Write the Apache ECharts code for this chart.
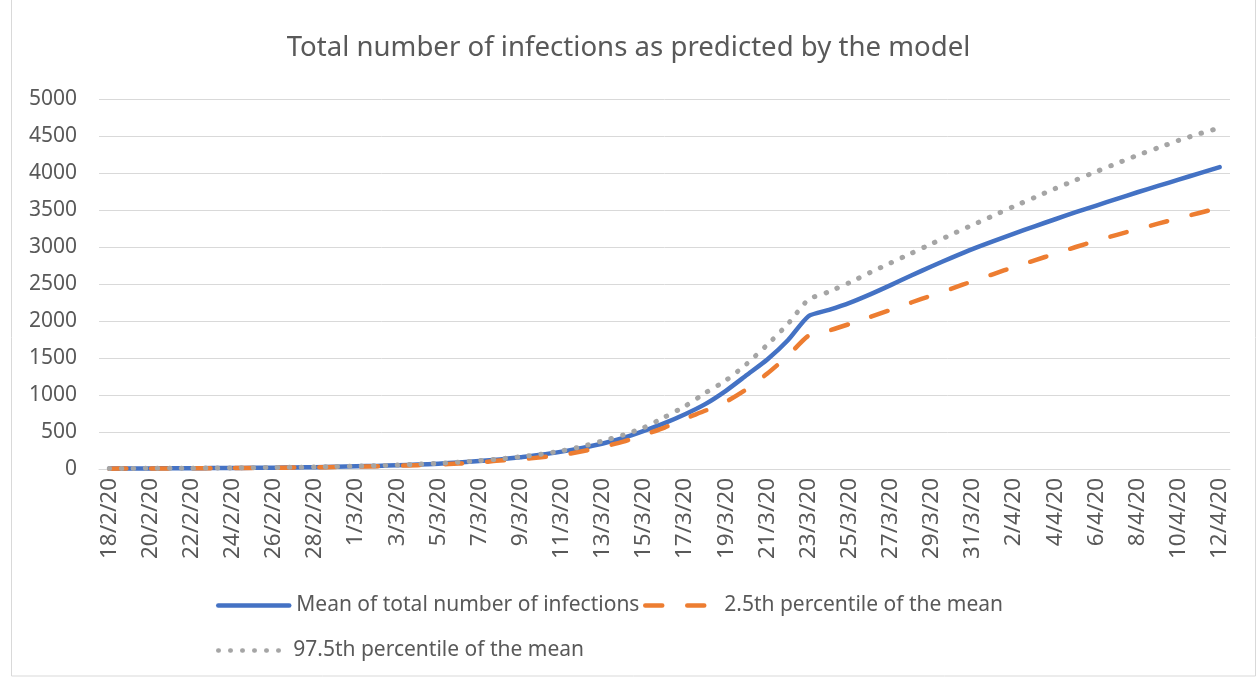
<!DOCTYPE html>
<html>
<head>
<meta charset="utf-8">
<script src="https://cdn.jsdelivr.net/npm/echarts@6/dist/echarts.min.js"></script>
<style>
  html, body { margin: 0; padding: 0; background: #fff; }
  #chart { width: 1257px; height: 678px; }
</style>
</head>
<body>
<div id="chart"></div>
<script>
var dates = [
  "18/2/20", "19/2/20", "20/2/20", "21/2/20", "22/2/20", "23/2/20", "24/2/20", "25/2/20",
  "26/2/20", "27/2/20", "28/2/20", "29/2/20", "1/3/20", "2/3/20", "3/3/20", "4/3/20",
  "5/3/20", "6/3/20", "7/3/20", "8/3/20", "9/3/20", "10/3/20", "11/3/20", "12/3/20",
  "13/3/20", "14/3/20", "15/3/20", "16/3/20", "17/3/20", "18/3/20", "19/3/20", "20/3/20",
  "21/3/20", "22/3/20", "23/3/20", "24/3/20", "25/3/20", "26/3/20", "27/3/20", "28/3/20",
  "29/3/20", "30/3/20", "31/3/20", "1/4/20", "2/4/20", "3/4/20", "4/4/20", "5/4/20",
  "6/4/20", "7/4/20", "8/4/20", "9/4/20", "10/4/20", "11/4/20", "12/4/20"
];

var meanInfections = [
  6, 7, 8, 9, 10, 12, 14, 16, 18, 21, 25, 30, 36, 42, 50, 60,
  72, 88, 107, 130, 160, 192, 235, 285, 345, 420, 515, 620, 740, 880,
  1060, 1270, 1480, 1740, 2065, 2150, 2245, 2360, 2485, 2615, 2740, 2860,
  2975, 3080, 3180, 3280, 3375, 3470, 3560, 3650, 3740, 3825, 3910, 3995, 4080
];

var lowerPct = [
  5, 6, 7, 8, 9, 11, 12, 14, 16, 19, 22, 26, 31, 37, 44, 52,
  62, 74, 88, 115, 128, 160, 188, 240, 300, 370, 460, 560, 680, 790,
  910, 1080, 1290, 1530, 1800, 1870, 1960, 2055, 2150, 2250, 2345, 2440,
  2540, 2635, 2730, 2820, 2910, 3000, 3085, 3165, 3240, 3315, 3390, 3460, 3530
];

var upperPct = [
  7, 8, 9, 10, 11, 13, 15, 17, 20, 23, 27, 32, 38, 45, 54, 64,
  77, 93, 112, 137, 165, 200, 245, 305, 380, 460, 560, 700, 850, 1030,
  1200, 1420, 1680, 1960, 2290, 2395, 2520, 2655, 2785, 2915, 3045, 3175,
  3300, 3425, 3550, 3670, 3790, 3905, 4020, 4130, 4240, 4340, 4440, 4530, 4610
];

var yTicks = { min: 0, max: 5000, interval: 500 };

var seriesNames = [
  "Mean of total number of infections",
  "2.5th percentile of the mean",
  "97.5th percentile of the mean"
];

var textColor = "#595959";
var gridColor = "#D9D9D9";
var fontFamily = "'Noto Sans', sans-serif";

function legendFor(name, left, top, width, gap) {
  return {
    data: [name],
    left: left,
    top: top,
    itemWidth: width,
    itemHeight: 14,
    itemStyle: { opacity: 0 },
    lineStyle: { width: 4.5 },
    textStyle: { color: textColor, fontFamily: fontFamily, fontSize: 21, padding: [0, 0, 0, gap] }
  };
}

var chart = echarts.init(document.getElementById("chart"));

var options = {
  animation: false,
  color: ["#4472C4", "#ED7D31", "#A5A5A5"],
  title: {
    text: "Total number of infections as predicted by the model",
    left: "center",
    top: 29,
    textStyle: {
      color: textColor,
      fontFamily: fontFamily,
      fontSize: 27.6,
      fontWeight: "normal"
    }
  },
  legend: [
    legendFor(seriesNames[0], 211, 590, 71, 2),
    legendFor(seriesNames[1], 638, 590, 66, 8),
    legendFor(seriesNames[2], 211, 635, 69, 1)
  ],
  grid: {
    left: 99,
    right: 27,
    top: 99,
    bottom: 209,
    containLabel: false
  },
  xAxis: {
    type: "category",
    data: dates,
    boundaryGap: true,
    axisLine: { lineStyle: { color: gridColor, width: 1 } },
    axisTick: {
      interval: 1,
      alignWithLabel: false,
      length: 6,
      lineStyle: { color: gridColor }
    },
    axisLabel: {
      interval: 1,
      rotate: 90,
      margin: 9,
      color: textColor,
      fontFamily: fontFamily,
      fontSize: 22.5
    }
  },
  yAxis: {
    type: "value",
    min: yTicks.min,
    max: yTicks.max,
    interval: yTicks.interval,
    axisLine: { show: false },
    axisTick: { show: false },
    axisLabel: {
      margin: 22,
      color: textColor,
      fontFamily: fontFamily,
      fontSize: 21,
      formatter: function (v) { return String(v); }
    },
    splitLine: { lineStyle: { color: gridColor, width: 1 } }
  },
  series: [
    {
      name: seriesNames[0],
      type: "line",
      data: meanInfections,
      showSymbol: false,
      symbol: "none",
      smooth: 0.2,
      lineStyle: { width: 4.5, cap: "round", join: "round" },
      z: 2
    },
    {
      name: seriesNames[1],
      type: "line",
      data: lowerPct,
      showSymbol: false,
      symbol: "none",
      smooth: 0.2,
      lineStyle: { width: 4.5, type: [17, 25], cap: "round", join: "round" },
      z: 3
    },
    {
      name: seriesNames[2],
      type: "line",
      data: upperPct,
      showSymbol: false,
      symbol: "none",
      smooth: 0.2,
      lineStyle: { width: 5, type: [0.5, 11.5], cap: "round", join: "round" },
      z: 4
    }
  ],
  graphic: [
    {
      type: "rect",
      shape: { x: 11.5, y: -2, width: 1244, height: 678 },
      style: { fill: "none", stroke: gridColor, lineWidth: 1 },
      silent: true
    }
  ]
};

chart.setOption(options);
</script>
</body>
</html>
